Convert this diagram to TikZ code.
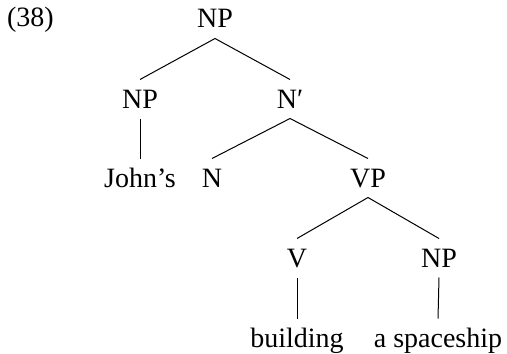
\documentclass[tikz,border=0pt]{standalone}
\usepackage{fontspec}
\setmainfont{Liberation Serif}
\begin{document}
\begin{tikzpicture}[x=0.5pt, y=-0.5pt,
  lbl/.style={inner sep=0pt, outer xsep=0pt, outer ysep=5.25pt,
    text height=9pt, text depth=0pt, anchor=base,
    font=\fontsize{14}{17}\selectfont},
  edge/.style={line width=0.5pt}]
\useasboundingbox (0,0) rectangle (507,353);
% example number
\node[lbl, anchor=base west] (num) at (7,27) {(38)};
% tree nodes
\node[lbl] (np0) at (215,28) {NP};
\node[lbl] (np1) at (140,108) {NP};
\node[lbl] (nbar) at (290,108) {N′};
\node[lbl] (john) at (140,187) {John’s};
\node[lbl] (n) at (212,187) {N};
\node[lbl] (vp) at (368,187) {VP};
\node[lbl] (v) at (297,267) {V};
\node[lbl] (np2) at (439,267) {NP};
\node[lbl] (bld) at (297,347) {building};
\node[lbl] (ship) at (438,347) {a spaceship};
% branches
\draw[edge] (np0.south) -- (np1.north);
\draw[edge] (np0.south) -- (nbar.north);
\draw[edge] (np1.south) -- (john.north);
\draw[edge] (nbar.south) -- (n.north);
\draw[edge] (nbar.south) -- (vp.north);
\draw[edge] (vp.south) -- (v.north);
\draw[edge] (vp.south) -- (np2.north);
\draw[edge] (v.south) -- (bld.north);
\draw[edge] (np2.south) -- (ship.north);
\end{tikzpicture}
\end{document}
